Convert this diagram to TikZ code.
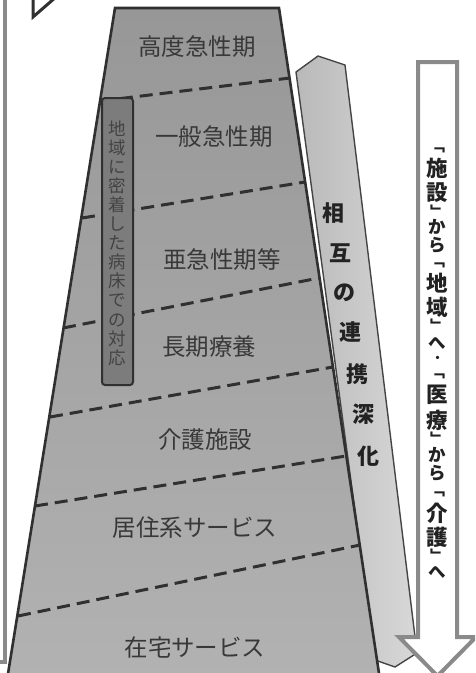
\documentclass[tikz,border=0pt]{standalone}
\usepackage{fontspec}
\newfontfamily\jp{Noto Sans CJK JP}
\definecolor{trapA}{HTML}{979797}
\definecolor{trapB}{HTML}{B2B2B2}
\definecolor{edgec}{HTML}{303030}
\definecolor{bandA}{HTML}{B9B9B9}
\definecolor{bandB}{HTML}{D8D8D8}
\definecolor{framec}{HTML}{8A8A8A}
\definecolor{boxfill}{HTML}{7C7C7C}
\definecolor{lbl}{HTML}{383838}
\definecolor{dk}{HTML}{222222}
\tikzset{
  trapline/.style={draw=edgec, line width=2.6pt, line join=miter},
  divline/.style={draw=edgec, line width=3pt, dash pattern=on 13pt off 7pt},
  framestyle/.style={draw=framec, line width=4pt, line join=miter},
  bandstyle/.style={draw=edgec!90, line width=1.4pt, left color=bandA, right color=bandB, line join=miter},
  lboxstyle/.style={draw=edgec, line width=2pt, fill=boxfill, rounded corners=3pt, inner sep=0pt},
  lvl/.style={font=\jp\fontsize{23.5}{24}\selectfont, text=lbl, inner sep=0pt},
  midch/.style={font=\jp\bfseries\fontsize{22}{22}\selectfont, text=dk, inner sep=0pt},
  rch/.style={font=\jp\bfseries\fontsize{21.5}{22}\selectfont, text=dk, inner sep=0pt},
  rkn/.style={font=\jp\bfseries\fontsize{17.5}{18}\selectfont, text=dk, inner sep=0pt},
  rbr/.style={font=\jp\bfseries\fontsize{15}{15}\selectfont, text=dk, inner sep=0pt},
  rdot/.style={font=\jp\bfseries\fontsize{12}{12}\selectfont, text=dk, inner sep=0pt},
}
\begin{document}
\begin{tikzpicture}[x=1pt,y=-1pt]
\useasboundingbox (0,0) rectangle (475,673);
\fill[white] (0,0) rectangle (475,673);
\clip (0,0) rectangle (475,673);

% left frame line (box running off the left edge)
\draw[framestyle] (5,-3) -- (5,662) -- (-3,662);
% partial dark shape at top left
\draw[draw=edgec, line width=3pt, line join=miter] (33,-3) -- (33,17) -- (56,-3);

% middle slanted band
\path[bandstyle] (296,72) -- (318,56) -- (345,65) -- (417,653) -- (395,667) -- (375,660) -- cycle;

% trapezoid
\path[top color=trapA, bottom color=trapB] (7,680) -- (115,8) -- (279,8) -- (380,680) -- cycle;

% dividing dashed lines
\draw[divline] (100,101) -- (290,78);
\draw[divline] (82,218) -- (305,182);
\draw[divline] (63,328) -- (319,278);
\draw[divline] (50,417) -- (333,367);
\draw[divline] (35,506) -- (346,456);
\draw[divline] (18,616) -- (360,545);

\draw[trapline] (7,680) -- (115,8) -- (279,8) -- (380,680);

% level labels
\node[lvl] (l1) at (197,47) {高度急性期};
\node[lvl] (l2) at (214,137) {一般急性期};
\node[lvl] (l3) at (222,260) {亜急性期等};
\node[lvl] (l4) at (209,347) {長期療養};
\node[lvl] (l5) at (205,440) {介護施設};
\node[lvl] (l6) at (195,528) {居住系サービス};
\node[lvl] (l7) at (195,648) {在宅サービス};

% left vertical box
\node[lboxstyle, minimum width=31pt, minimum height=287pt] (lbox) at (117.5,241.5) {};
\node[font=\jp\fontsize{17.5}{19.1}\selectfont, text=dk!85, align=center, inner sep=0pt] (ltext) at (117.5,243) {地\\域\\に\\密\\着\\し\\た\\病\\床\\で\\の\\対\\応};

% middle band text
\foreach \c/\x/\y [count=\i] in {相/333/213, 互/340/253, の/344/293, 連/350/332, 携/357/374, 深/363/414, 化/368/456}
  \node[midch] (m\i) at (\x,\y) {\c};

% right arrow
\path[framestyle, fill=white] (418,62) -- (457,62) -- (457,637) -- (476,637) -- (437.5,676) -- (399,637) -- (418,637) -- cycle;
\foreach \c/\y/\s [count=\i] in {﹁/150/rbr, 施/168/rch, 設/193/rch, ﹂/211/rbr, か/227/rkn, ら/245/rkn, ﹁/265/rbr, 地/283/rch, 域/307/rch, ﹂/325/rbr, へ/343/rkn, ・/359/rdot, ﹁/376/rbr, 医/395/rch, 療/420/rch, ﹂/438/rbr, か/455/rkn, ら/473/rkn, ﹁/494/rbr, 介/513/rch, 護/537/rch, ﹂/555/rbr, へ/572/rkn}
  \node[\s] (r\i) at (437.5,\y) {\c};
\end{tikzpicture}
\end{document}
